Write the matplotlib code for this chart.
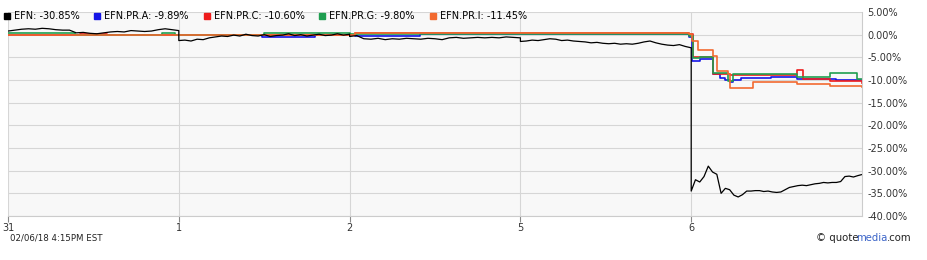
import numpy as np
import matplotlib
matplotlib.use("Agg")
import matplotlib.pyplot as plt
from matplotlib.lines import Line2D

# tick labels (trading days)
day_labels = ["31", "1", "2", "5", "6"]

# EFN common: intraday samples for each trading day (% change)
efn_day0 = [0.8, 1.0, 1.2, 1.3, 1.2, 1.4, 1.3, 1.1, 1.0, 1.0, 0.4, 0.5, 0.3, 0.2,
            0.4, 0.6, 0.7, 0.6, 0.9, 0.8, 0.7, 0.8, 1.1, 1.3, 1.1, 0.9]
efn_day1 = [-1.3, -1.2, -1.4, -1.0, -1.1, -0.7, -0.5, -0.3, -0.4, -0.1, -0.3, 0.1,
            -0.2, -0.3, 0.0, -0.4, -0.2, -0.1, 0.2, -0.2, 0.0, -0.3, -0.1, 0.1,
            -0.2, -0.1, 0.2, -0.1, 0.1]
efn_day2 = [-0.4, -0.2, -0.9, -1.0, -0.8, -1.1, -0.9, -1.0, -0.8, -0.9, -1.0, -0.8,
            -0.9, -1.1, -0.7, -0.6, -0.8, -0.7, -0.6, -0.7, -0.6, -0.7, -0.5, -0.6,
            -0.7]
efn_day3 = [-1.5, -1.4, -1.2, -1.3, -1.1, -0.9, -1.0, -1.3, -1.2, -1.4, -1.5, -1.6,
            -1.8, -1.7, -1.9, -2.0, -1.9, -2.1, -2.0, -2.1, -1.9, -1.6, -1.4, -1.8,
            -2.1, -2.3, -2.4, -2.2, -2.6, -2.9]
efn_day4 = [-34.5, -32.0, -32.5, -31.3, -29.0, -30.3, -30.8, -35.0, -33.9, -34.2,
            -35.4, -35.8, -35.3, -34.5, -34.5, -34.4, -34.4, -34.6, -34.5, -34.7,
            -34.8, -34.7, -34.2, -33.7, -33.5, -33.3, -33.2, -33.3, -33.1, -32.9,
            -32.8, -32.6, -32.7, -32.6, -32.6, -32.4, -31.3, -31.2, -31.4, -31.1,
            -30.85]

# preferred shares: change points (day units) and values (%)
pra_t = [0, 1.49, 1.80, 2.03, 2.41, 3.99, 4.005, 4.05, 4.13, 4.17, 4.20, 4.23,
         4.245, 4.29, 4.47, 4.62, 4.85, 5.0]
pra_v = [0.0, -0.5, 0.0, -0.2, 0.1, -0.5, -5.9, -5.3, -8.6, -9.6, -10.0, -10.5,
         -9.9, -9.6, -9.3, -9.7, -9.9, -9.89]
prc_t = [0, 0.42, 0.58, 1.0, 2.03, 2.59, 3.99, 4.01, 4.05, 4.13, 4.23, 4.62, 4.655,
         4.81, 5.0]
prc_v = [-0.1, 0.2, -0.1, 0.0, 0.4, 0.3, 0.2, -4.9, -5.0, -8.6, -9.0, -7.9, -9.7,
         -10.2, -10.6]
prg_t = [0, 0.39, 0.90, 0.98, 1.5, 2.0, 3.64, 3.99, 4.01, 4.05, 4.13, 4.215, 4.245,
         4.62, 4.81, 4.97, 5.0]
prg_v = [0.3, 0.0, 0.3, 0.0, 0.4, 0.2, 0.1, -0.3, -5.2, -5.0, -8.5, -10.3, -8.7,
         -9.3, -8.5, -9.8, -9.8]
pri_t = [0, 2.03, 3.99, 4.005, 4.04, 4.13, 4.15, 4.215, 4.23, 4.36, 4.62, 4.81, 5.0]
pri_v = [-0.1, 0.3, 0.2, -1.5, -3.3, -4.8, -8.1, -8.6, -11.8, -10.5, -10.8, -11.4,
         -11.45]

names = ["EFN: -30.85%", "EFN.PR.A: -9.89%", "EFN.PR.C: -10.60%",
         "EFN.PR.G: -9.80%", "EFN.PR.I: -11.45%"]
colors = ["#000000", "#1515e6", "#ee1c1c", "#1f9e50", "#f26a30"]

fig = plt.figure(figsize=(9.27, 2.6), dpi=100)
ax = fig.add_axes([8 / 927, 1 - 216 / 260, 854 / 927, 204 / 260])
ax.set_facecolor("#f8f8f8")

# black line, each day spread over its own slot
efn_t, efn_v = [], []
for d, vals in enumerate([efn_day0, efn_day1, efn_day2, efn_day3, efn_day4]):
    efn_t += list(np.linspace(d, d + 1, len(vals)))
    efn_v += vals

for t, v, c in zip([pra_t, prc_t, prg_t, pri_t], [pra_v, prc_v, prg_v, pri_v], colors[1:]):
    ax.plot(t, v, color=c, lw=1.2, drawstyle="steps-post")
ax.plot(efn_t, efn_v, color=colors[0], lw=0.9)

ax.set_xlim(0, 5)
ax.set_ylim(-40, 5)
ax.set_xticks(range(5))
ax.set_xticklabels(day_labels)
yt = np.arange(5, -41, -5)
ax.set_yticks(yt)
ax.set_yticklabels(["%.2f%%" % v for v in yt])
ax.yaxis.tick_right()
ax.tick_params(axis="y", length=0, pad=4, labelsize=7, labelcolor="#333333")
ax.tick_params(axis="x", length=4, width=0.8, color="#888888", pad=1,
               labelsize=7, labelcolor="#333333")
ax.grid(True, color="#d6d6d6", lw=0.8)
ax.set_axisbelow(True)
for s in ["left", "top"]:
    ax.spines[s].set_visible(False)
for s in ["right", "bottom"]:
    ax.spines[s].set_color("#cccccc")
    ax.spines[s].set_linewidth(0.8)

handles = [Line2D([], [], marker="s", ls="none", color=c, markersize=4.5) for c in colors]
fig.legend(handles, names, ncol=5, loc="upper left", bbox_to_anchor=(4 / 927, 1 - 11 / 260),
           frameon=False, fontsize=7, handlelength=0.6, handletextpad=0.4,
           columnspacing=1.55, borderpad=0.0, borderaxespad=0.0)

fig.text(10 / 927, 1 - 238 / 260, "02/06/18 4:15PM EST", fontsize=6.2,
         color="#222222", va="center")

# "© quotemedia.com" with coloured middle part, chained left to right
yq = 1 - 238 / 260
t1 = fig.text(816 / 927, yq, "\u00a9 quote", fontsize=7.3, color="#222222", va="center")
t2 = fig.text(0, yq, "media", fontsize=7.3, color="#3b64c8", va="center")
t3 = fig.text(0, yq, ".com", fontsize=7.3, color="#222222", va="center")
fig.canvas.draw()
r = fig.canvas.get_renderer()
W = fig.bbox.width
t2.set_position(((t1.get_window_extent(r).x1 - 2) / W, yq))
fig.canvas.draw()
t3.set_position(((t2.get_window_extent(r).x1 - 1) / W, yq))

fig.savefig("out.png", dpi=100)
